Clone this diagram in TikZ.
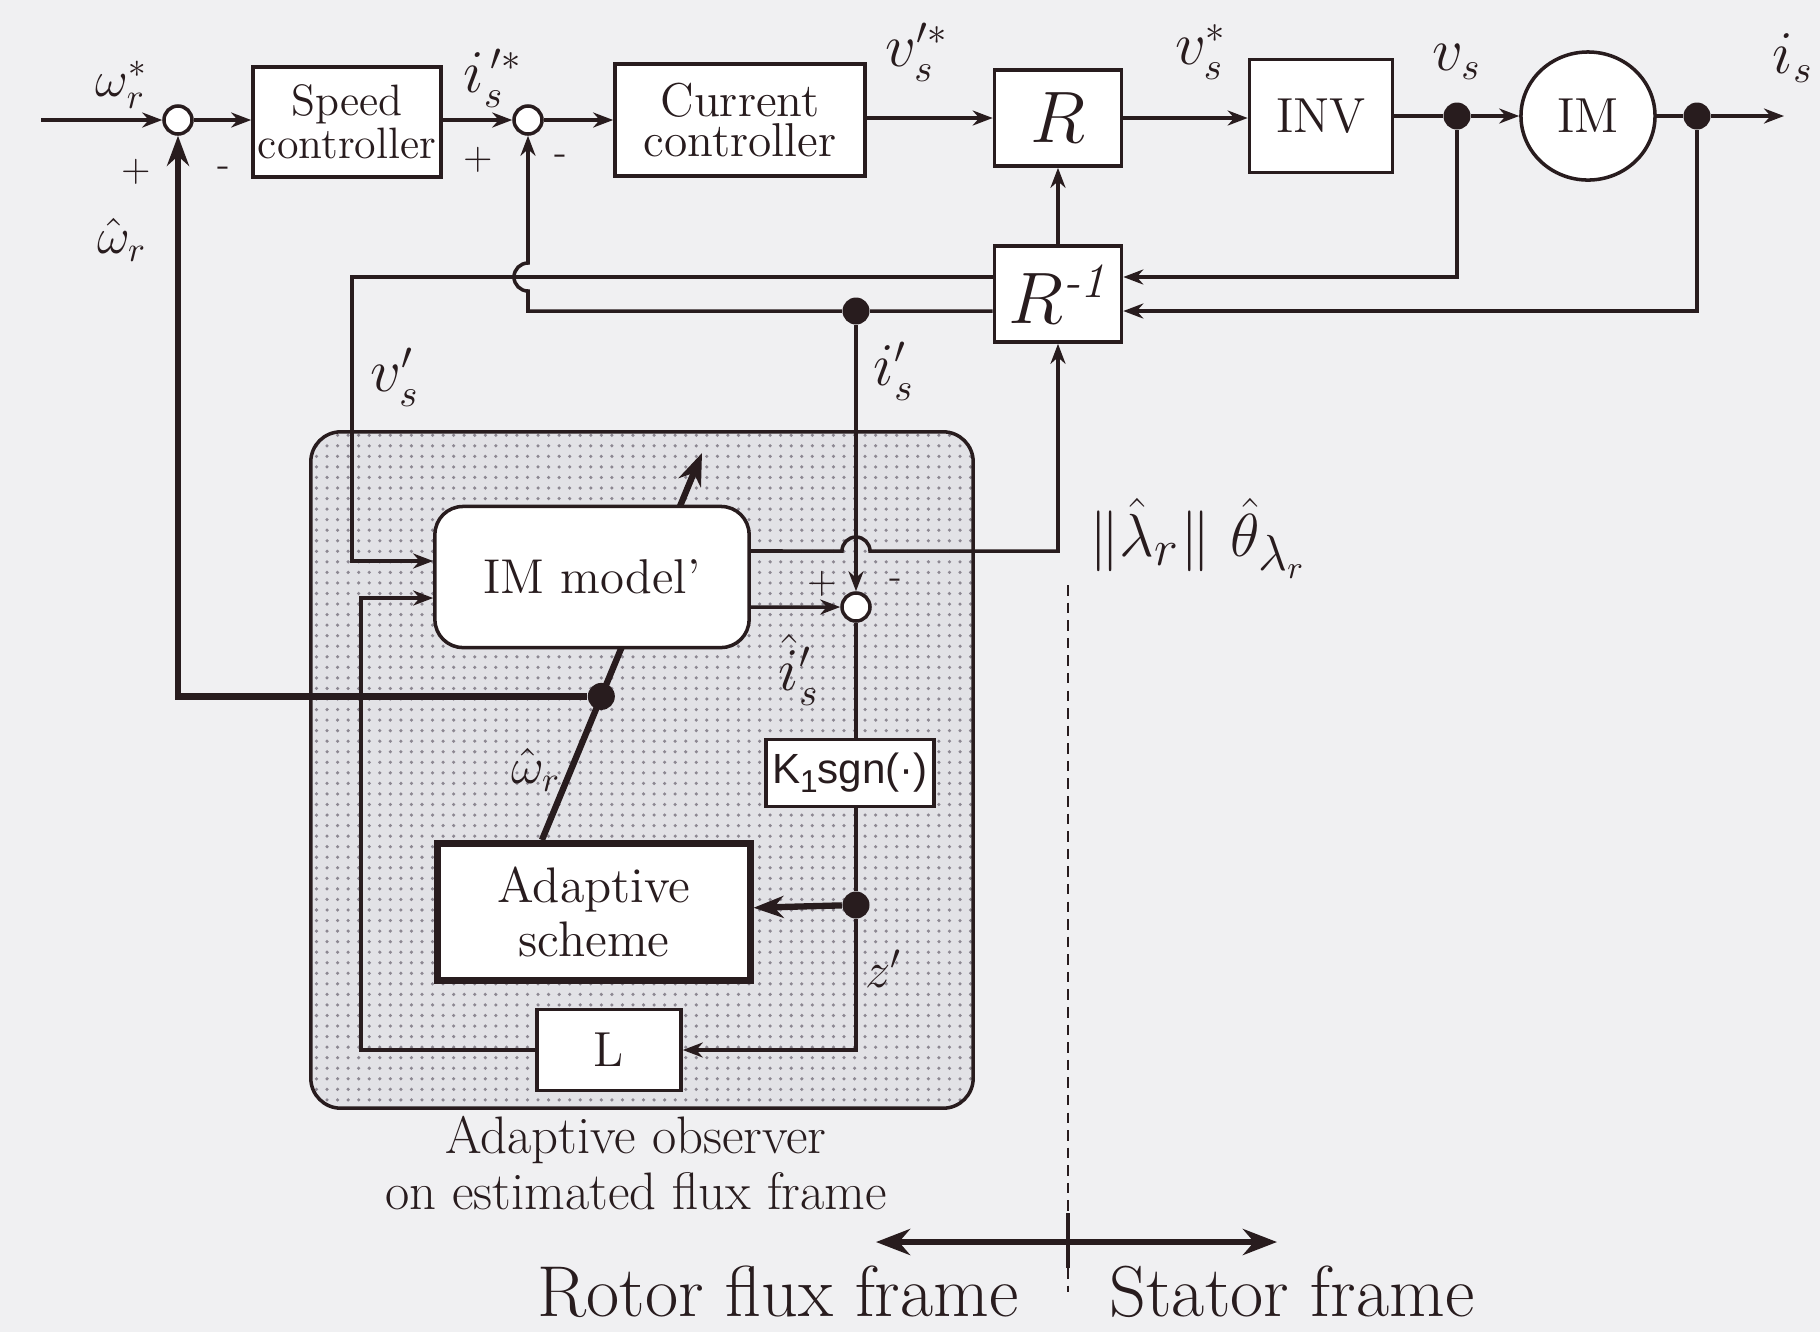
\documentclass[tikz,border=0pt]{standalone}
\usepackage{amsmath,amssymb}
\usepackage{fontspec}
\newfontfamily\sgnfont{Liberation Sans}
\usetikzlibrary{arrows.meta,positioning,calc,shapes.geometric,patterns}
\definecolor{ink}{RGB}{40, 28, 30}
\definecolor{paper}{RGB}{240, 240, 242}
\definecolor{obsfill}{RGB}{226, 226, 230}
\definecolor{dotgray}{RGB}{140, 135, 145}

\begin{document}
\begin{tikzpicture}[x=0.01cm, y=0.01cm,
    blk/.style={draw=ink, line width=1pt, fill=white, align=center, inner sep=0pt, text=ink, font=\fontsize{12.5}{11}\selectfont},
    sumpt/.style={circle, draw=ink, line width=1pt, fill=white, minimum size=0.28cm, inner sep=0pt},
    jdot/.style={circle, fill=ink, minimum size=0.27cm, inner sep=0pt},
    wire/.style={draw=ink, line width=1pt},
    sig/.style={wire, -{Stealth[length=0.2cm, width=0.15cm]}},
    fat/.style={draw=ink, line width=1.8pt},
    lbl/.style={text=ink, font=\fontsize{16}{16}\selectfont},
    pm/.style={text=ink, font=\fontsize{11}{11}\selectfont}
]
    % Page
    \fill[paper] (0,0) rectangle (1820,-1332);
    \useasboundingbox (0,0) rectangle (1820,-1332);

    % Observer area
    \node[draw=ink, line width=1pt, rounded corners=0.3cm, preaction={fill=obsfill}, pattern=dots, pattern color=dotgray, minimum width=6.62cm, minimum height=6.76cm] (obs) at (642,-770) {};

    % Forward path
    \coordinate (wref) at (41,-120);
    \node[sumpt] (s1) at (178,-120) {};
    \node[blk, minimum width=1.88cm, minimum height=1.10cm] (spd) at (347,-122) {Speed\\controller};
    \node[sumpt] (s2) at (528,-120) {};
    \node[blk, minimum width=2.50cm, minimum height=1.12cm, font=\fontsize{13.5}{11.2}\selectfont] (cur) at (740,-120) {Current\\controller};
    \node[blk, minimum width=1.27cm, minimum height=0.96cm, font=\fontsize{20}{20}\selectfont] (rot) at (1058,-118) {$R$};
    \node[blk, minimum width=1.43cm, minimum height=1.13cm, font=\fontsize{14}{14}\selectfont] (inv) at (1321,-116) {INV};
    \node[jdot] (dv) at (1457,-116) {};
    \node[ellipse, draw=ink, line width=1pt, fill=white, text=ink, minimum width=1.34cm, minimum height=1.28cm, inner sep=0pt, font=\fontsize{14}{14}\selectfont] (im) at (1588,-116) {IM};
    \node[jdot] (di) at (1697,-116) {};
    \coordinate (isout) at (1784,-116);

    \draw[sig] (wref) -- (s1);
    \draw[sig] (s1) -- (spd.west |- s1);
    \draw[sig] (spd.east |- s2) -- (s2);
    \draw[sig] (s2) -- (cur.west |- s2);
    \draw[sig] (cur.east |- rot) -- (rot);
    \draw[sig] (rot) -- (inv.west |- rot);
    \draw[wire] (inv) -- (dv);
    \draw[sig] (dv) -- (im);
    \draw[wire] (im) -- (di);
    \draw[sig] (di) -- (isout);

    % Frame transformation
    \node[blk, minimum width=1.27cm, minimum height=0.96cm, font=\fontsize{20}{20}\selectfont] (rinv) at (1058,-294) {$R^{\textit{-1}}$};
    \draw[sig] (dv) |- ([yshift=0.17cm]rinv.east);
    \draw[sig] (di) |- ([yshift=-0.17cm]rinv.east);
    \draw[sig] (rinv) -- (rot);

    % Observer blocks
    \node[sumpt] (s3) at (856,-607) {};
    \node[jdot] (dis) at (856,-311) {};
    \node[blk, minimum width=1.68cm, minimum height=0.67cm, font=\sgnfont\fontsize{12}{12}\selectfont] (sgn) at (850,-773) {K{\fontsize{9}{9}\selectfont\raisebox{-2.5pt}{1}}sgn(·)};
    \node[jdot] (dz) at (856,-905) {};
    \node[blk, line width=2pt, minimum width=3.12cm, minimum height=1.37cm, font=\fontsize{14.2}{15.2}\selectfont] (ada) at (594,-912) {Adaptive\\scheme};
    \node[blk, minimum width=1.44cm, minimum height=0.81cm, font=\fontsize{14}{14}\selectfont] (gain) at (609,-1050) {L};

    % Speed estimate
    \coordinate (wtip) at (702,-453);
    \draw[fat, -{Stealth[length=0.32cm, width=0.24cm]}] ([xshift=-0.52cm]ada.north) -- (wtip);
    \path ([xshift=-0.52cm]ada.north) -- (wtip) coordinate[pos=0.371] (wmid);
    \node[jdot] (dw) at (wmid) {};
    \draw[fat, -{Stealth[length=0.3cm, width=0.22cm]}] (dw) -| (s1);

    \node[blk, rounded corners=0.28cm, minimum width=3.14cm, minimum height=1.41cm, font=\fontsize{13.9}{14}\selectfont] (imm) at (592,-577) {IM model'};

    % Feedback wiring
    \draw[sig] ([yshift=0.17cm]rinv.west) -| ([xshift=-0.81cm, yshift=0.16cm]imm.west) -- ([yshift=0.16cm]imm.west);
    \draw[wire] ([yshift=-0.17cm]rinv.west) -- (dis);
    \draw[sig] (dis) -- (s2 |- dis) -- ++(0,20) arc[start angle=270, end angle=90, radius=14] -- (s2);
    \draw[sig] (dis) -- (s3);
    \coordinate (hop) at ($(s3)+(0,56)$);
    \draw[sig] ([yshift=0.26cm]imm.east) -- ([xshift=-0.14cm]hop) arc[start angle=180, end angle=0, radius=14] -- (rinv.south |- hop) -- (rinv);
    \draw[sig] ([yshift=-0.30cm]imm.east) -- (s3);
    \draw[wire] (s3) -- (s3 |- sgn.north);
    \draw[wire] (s3 |- sgn.south) -- (dz);
    \draw[fat, -{Stealth[length=0.3cm, width=0.22cm]}] (dz) -- (ada);
    \draw[sig] (dz) |- (gain);
    \draw[sig] (gain) -| ([xshift=-0.72cm, yshift=-0.21cm]imm.west) -- ([yshift=-0.21cm]imm.west);

    % Signal labels
    \node[lbl, font=\fontsize{14}{14}\selectfont] (lwref) at (122,-85) {$\omega_r^*$};
    \node[pm] (p1) at (136,-172) {+};
    \node[pm] (m1) at (224,-172) {-};
    \node[lbl, font=\fontsize{14}{14}\selectfont] (lwhat) at (122,-240) {$\hat{\omega}_r$};
    \node[lbl] (lisref) at (493,-78) {$i_s^{\,\prime *}$};
    \node[pm] (p2) at (478,-160) {+};
    \node[pm] (m2) at (561,-160) {-};
    \node[lbl] (lvsp) at (917,-52) {$v_s^{\prime *}$};
    \node[lbl] (lvsr) at (1201,-52) {$v_s^{*}$};
    \node[lbl] (lvs) at (1457,-62) {$v_s$};
    \node[lbl] (lis) at (1793,-58) {$i_s$};
    \node[lbl] (lvsd) at (395,-377) {$v_s^{\prime}$};
    \node[lbl] (lisd) at (894,-371) {$i_s^{\prime}$};
    \node[lbl, font=\fontsize{19}{19}\selectfont] (lflux) at (1198,-538) {$\|\hat{\lambda}_r\|\ \hat{\theta}_{\lambda_r}$};
    \node[pm] (p3) at (822,-584) {+};
    \node[pm] (m3) at (896,-584) {-};
    \node[lbl] (lishat) at (799,-670) {$\hat{i}_s^{\prime}$};
    \node[lbl, font=\fontsize{14}{14}\selectfont] (lwobs) at (536,-770) {$\hat{\omega}_r$};
    \node[lbl, font=\fontsize{14}{14}\selectfont] (lz) at (884,-969) {$z'$};
    \node[text=ink, align=center, font=\fontsize{15}{16}\selectfont] (lobs) at (636,-1163) {Adaptive observer\\on estimated flux frame};

    % Frame boundary
    \coordinate (fa) at (1068,-585);
    \coordinate (fb) at (1068,-1213);
    \coordinate (fc) at (1068,-1268);
    \coordinate (fd) at (1068,-1292);
    \draw[ink, line width=0.8pt, dash pattern=on 3pt off 2pt] (fa) -- (fb);
    \draw[ink, line width=1.4pt] (fb) -- (fc);
    \draw[ink, line width=0.8pt, dash pattern=on 3pt off 2pt] (fc) -- (fd);
    \coordinate (fl) at (876,-1242);
    \coordinate (fr) at (1277,-1242);
    \draw[fat, {Stealth[length=0.34cm, width=0.26cm]}-{Stealth[length=0.34cm, width=0.26cm]}] (fl) -- (fr);
    \node[text=ink, font=\fontsize{20.5}{20.5}\selectfont] (lrot) at (778,-1292) {Rotor flux frame};
    \node[text=ink, font=\fontsize{20.5}{20.5}\selectfont] (lsta) at (1292,-1292) {Stator frame};
\end{tikzpicture}
\end{document}
